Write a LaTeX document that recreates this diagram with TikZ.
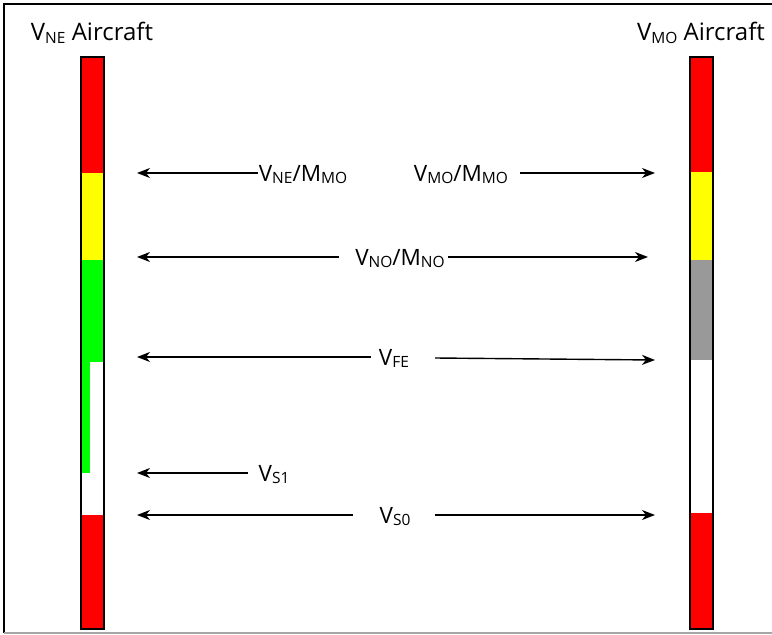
\documentclass[tikz,border=0pt]{standalone}
\usepackage{fontspec}
\setmainfont{Open Sans}
\usetikzlibrary{arrows.meta}
\definecolor{barred}{RGB}{255,0,0}
\definecolor{baryellow}{RGB}{255,255,0}
\definecolor{bargreen}{RGB}{0,255,0}
\definecolor{bargrey}{RGB}{153,153,153}
\newcommand{\sub}[1]{\raisebox{-0.2ex}{\fontsize{15.5}{15.5}\selectfont #1}}
\tikzset{
  speed/.style={font=\fontsize{22.5}{22.5}\selectfont, inner sep=0pt, text height=16pt, text depth=0pt, anchor=center},
  title/.style={font=\fontsize{24}{24}\selectfont, inner sep=0pt, anchor=center},
  marker/.style={line width=1.4pt, -{Stealth[length=13pt,width=10pt,inset=4pt]}},
  bar/.style={draw=black, line width=1.8pt},
}
\begin{document}
\begin{tikzpicture}[x=1pt,y=-1pt]
\useasboundingbox (0,0) rectangle (772,635);
% frame
\draw[line width=2pt] (772,4) -- (4,4) -- (4,633);
\draw[gray!70, line width=1.5pt] (4,633) -- (772,633);

% titles
\node[title] (tl) at (92,33) {V\sub{NE} Aircraft};
\node[title] (tr) at (701,33) {V\sub{MO} Aircraft};

% left airspeed bar
\fill[barred] (81,57) rectangle (104,173);
\fill[baryellow] (81,173) rectangle (104,260);
\fill[bargreen] (81,260) rectangle (104,362);
\fill[bargreen] (81,362) rectangle (90,473);
\fill[barred] (81,515) rectangle (104,629);
\draw[bar] (81,57) rectangle (104,629);

% right airspeed bar
\fill[barred] (690,57) rectangle (713,172);
\fill[baryellow] (690,172) rectangle (713,260);
\fill[bargrey] (690,260) rectangle (713,360);
\fill[barred] (690,513) rectangle (713,629);
\draw[bar] (690,57) rectangle (713,629);

% speed labels
\node[speed] (ne) at (303,173) {V\sub{NE}/M\sub{MO}};
\node[speed] (mo) at (461,173) {V\sub{MO}/M\sub{MO}};
\node[speed] (no) at (400,257) {V\sub{NO}/M\sub{NO}};
\node[speed] (fe) at (394,357) {V\sub{FE}};
\node[speed] (s1) at (274,473) {V\sub{S1}};
\node[speed] (s0) at (395,515) {V\sub{S0}};

% arrow ends
\coordinate (neL) at (137,173);
\coordinate (moR) at (655,173);
\coordinate (noL) at (137,257);
\coordinate (noR) at (648,257);
\coordinate (feL) at (137,357);
\coordinate (feR) at (655,360);
\coordinate (s1L) at (137,473);
\coordinate (s0L) at (137,515);
\coordinate (s0R) at (655,515);

% arrows
\draw[marker] (ne.west) ++(-1,0) coordinate (neA) -- (neL);
\draw[marker] (mo.east) ++(12,0) coordinate (moA) -- (moR);
\draw[marker] (no.west) ++(-16,0) coordinate (noA) -- (noL);
\draw[marker] (no.east) ++(3,0) coordinate (noB) -- (noR);
\draw[marker] (fe.west) ++(-8,0) coordinate (feA) -- (feL);
\draw[marker] (fe.east) ++(26,1) coordinate (feB) -- (feR);
\draw[marker] (s1.west) ++(-10,0) coordinate (s1A) -- (s1L);
\draw[marker] (s0.west) ++(-26,0) coordinate (s0A) -- (s0L);
\draw[marker] (s0.east) ++(24,0) coordinate (s0B) -- (s0R);
\end{tikzpicture}
\end{document}
